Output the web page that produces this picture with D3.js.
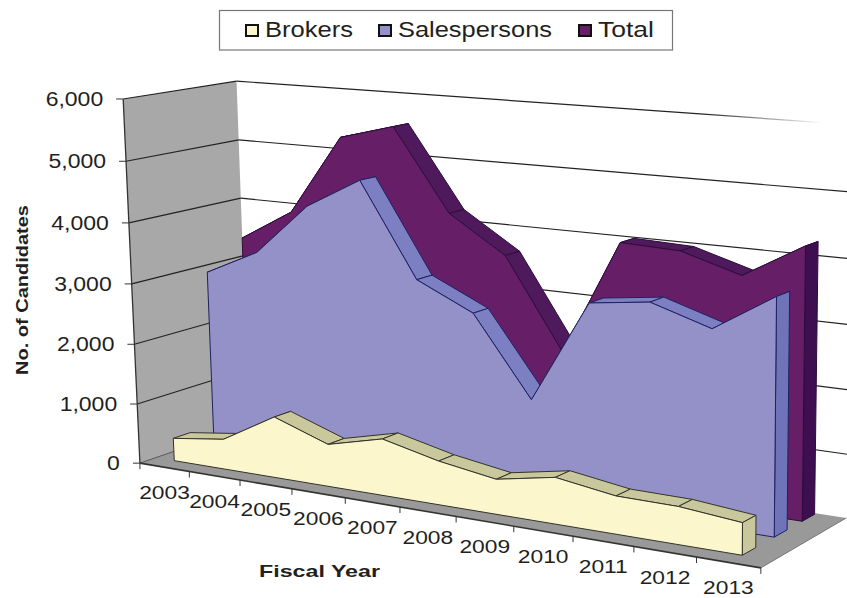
<!DOCTYPE html>
<html><head><meta charset="utf-8">
<style>html,body{margin:0;padding:0;background:#fff}svg{display:block}text{font-family:"Liberation Sans",Arial,sans-serif;fill:#231f20}</style>
<script src="https://cdnjs.cloudflare.com/ajax/libs/d3/7.8.5/d3.min.js"></script>
</head><body><script>
const categories=["2003","2004","2005","2006","2007","2008","2009","2010","2011","2012","2013"];
const brokers=[380,500,1005,690,915,700,555,730,590,580,490];
const salespersons=[2990,3420,4270,4770,3270,2840,1580,3215,3335,3040,3630];
const total=[3420,3950,5270,5515,4190,3600,2145,3995,3960,3680,4225];
const valueTicks=[0,1000,2000,3000,4000,5000,6000];

const W=847,H=598;
const svg=d3.select("body").append("svg").attr("width",W).attr("height",H);

// camera calibration: unit box corners -> screen
const calib=[
 [0,0,0,140,459],[1,0,0,763,570],[1,0,1,845,516],[0,0,1,249,430],
 [0,1,0,122,102],[0,1,1,238,78],[1,1,1,852,125],[.5,0,0,427,511]];
function solve(A,b){const n=b.length;const M=A.map((r,i)=>[...r,b[i]]);
 for(let i=0;i<n;i++){let p=i;for(let k=i+1;k<n;k++)if(Math.abs(M[k][i])>Math.abs(M[p][i]))p=k;
  [M[i],M[p]]=[M[p],M[i]];
  for(let k=0;k<n;k++){if(k===i)continue;const f=M[k][i]/M[i][i];for(let j=i;j<=n;j++)M[k][j]-=f*M[i][j];}}
 return M.map((r,i)=>r[n]/r[i]);}
const rows=[],rhs=[];
calib.forEach(([X,Y,Z,x,y])=>{
 rows.push([X,Y,Z,1,0,0,0,0,-x*X,-x*Y,-x*Z]);rhs.push(x);
 rows.push([0,0,0,0,X,Y,Z,1,-y*X,-y*Y,-y*Z]);rhs.push(y);});
const ATA=d3.range(11).map(i=>d3.range(11).map(j=>d3.sum(rows,r=>r[i]*r[j])));
const ATb=d3.range(11).map(i=>d3.sum(rows,(r,k)=>r[i]*rhs[k]));
const P=solve(ATA,ATb);
const proj=(u,v,w)=>{const d=P[8]*u+P[9]*v+P[10]*w+1;
 return [(P[0]*u+P[1]*v+P[2]*w+P[3])/d,(P[4]*u+P[5]*v+P[6]*w+P[7])/d];};

const band=d3.scaleBand().domain(categories).range([0,1]);
const uMid=c=>band(c)+band.bandwidth()/2;
const areaBand=d3.scaleBand().domain(categories).range([-.012,1.002]);
const uArea=c=>areaBand(c)+areaBand.bandwidth()/2;
const vScale=d3.scaleLinear().domain([0,6000]).range([0,1]);
const poly=pts=>"M"+pts.map(p=>p.map(n=>n.toFixed(2)).join(",")).join("L")+"Z";
const line=(a,b,stroke,sw)=>svg.append("line").attr("x1",a[0]).attr("y1",a[1]).attr("x2",b[0]).attr("y2",b[1]).attr("stroke",stroke).attr("stroke-width",sw);

const wallFill="#a8a8a8",floorFill="#999999";
svg.append("path").attr("d",poly([proj(0,0,0),proj(0,1,0),proj(0,1,1),proj(0,0,1)])).attr("fill",wallFill);
svg.append("path").attr("d",poly([proj(0,0,0),proj(1,0,0),proj(1,0,1),proj(0,0,1)])).attr("fill",floorFill);

// fading top gridline
const defs=svg.append("defs");
const g=defs.append("linearGradient").attr("id","fade").attr("gradientUnits","userSpaceOnUse")
 .attr("x1",700).attr("y1",0).attr("x2",822).attr("y2",0);
g.append("stop").attr("offset",0).attr("stop-color","#222");
g.append("stop").attr("offset",1).attr("stop-color","#222").attr("stop-opacity",0);

valueTicks.forEach(t=>{
 const v=vScale(t),a=proj(0,v,0),b=proj(0,v,1),c=proj(1,v,1);
 if(t>0){line(a,b,"#222",1.2);
  line(b,c,t===6000?"url(#fade)":"#222",1.2);}
 line([a[0]-7,a[1]],a,"#333",1);
 svg.append("text").attr("text-anchor","end").attr("font-size",19.5)
  .attr("transform",`translate(${a[0]-20},${a[1]+7}) scale(1.18,1)`).text(d3.format(",")(t));
});
line(proj(0,0,0),proj(0,1,0),"#333",1.3);
line(proj(0,0,0),proj(0,0,1),"#555",1);

// x axis
line(proj(0,0,0),proj(1,0,0),"#333",1.6);
line(proj(1,0,0),proj(1,0,1),"#777",1);
d3.range(categories.length+1).forEach(i=>{
 const p=proj(i/categories.length,0,0);line(p,[p[0],p[1]+6],"#333",1);});
categories.forEach(c=>{
 const p=proj(uMid(c),0,0);
 svg.append("text").attr("text-anchor","middle").attr("font-size",19)
  .attr("transform",`translate(${p[0]},${p[1]+32}) scale(1.2,1)`).text(c);
});

const seriesDefs=[
 {vals:total,w0:.83,w1:.98,front:"#661f66",top:"#4f1a5c",side:"#3d0f50",stroke:"#2c0c3c"},
 {vals:salespersons,w0:.50,w1:.65,front:"#9490c8",top:"#7c80c2",side:"#6f74b8",stroke:"#1f2160"},
 {vals:brokers,w0:.14,w1:.29,front:"#fbf6cc",top:"#c9c89c",side:"#c9c89c",stroke:"#33332a"}];
seriesDefs.forEach(s=>{
 const G=svg.append("g");
 const f=s.vals.map((d,i)=>proj(uArea(categories[i]),vScale(d),s.w0));
 const b=s.vals.map((d,i)=>proj(uArea(categories[i]),vScale(d),s.w1));
 const uL=uArea(categories[0]),uR=uArea(categories[categories.length-1]);
 const attrs=(sel,fill)=>sel.attr("fill",fill).attr("stroke",s.stroke).attr("stroke-width",1).attr("stroke-linejoin","round");
 d3.range(f.length-1).forEach(i=>attrs(G.append("path").attr("d",poly([f[i],f[i+1],b[i+1],b[i]])),s.top));
 attrs(G.append("path").attr("d",poly([f[f.length-1],b[b.length-1],proj(uR,0,s.w1),proj(uR,0,s.w0)])),s.side);
 attrs(G.append("path").attr("d",poly([...f,proj(uR,0,s.w0),proj(uL,0,s.w0)])),s.front);
});

// titles
svg.append("text").attr("font-weight","bold").attr("font-size",17).attr("textLength",121).attr("lengthAdjust","spacingAndGlyphs")
 .attr("x",259).attr("y",577).text("Fiscal Year");
svg.append("text").attr("font-weight","bold").attr("font-size",17).attr("textLength",170).attr("lengthAdjust","spacingAndGlyphs")
 .attr("transform","translate(28,375) rotate(-90)").text("No. of Candidates");

// legend
svg.append("rect").attr("x",219.5).attr("y",10.5).attr("width",453).attr("height",39.5).attr("fill","#fff").attr("stroke","#777").attr("stroke-width",1.2);
const legendNames=["Brokers","Salespersons","Total"];
const legendFill=["#fbf6cc","#9490c8","#661f66"];
const legendX=[245,378,578],legendLen=[88,154,56];
legendNames.forEach((n,i)=>{
 svg.append("rect").attr("x",legendX[i]+1).attr("y",25).attr("width",12).attr("height",11).attr("fill",legendFill[i]).attr("stroke","#111").attr("stroke-width",2);
 svg.append("text").attr("x",legendX[i]+20).attr("y",37).attr("font-size",22).attr("textLength",legendLen[i]).attr("lengthAdjust","spacingAndGlyphs").text(n);
});
</script></body></html>
